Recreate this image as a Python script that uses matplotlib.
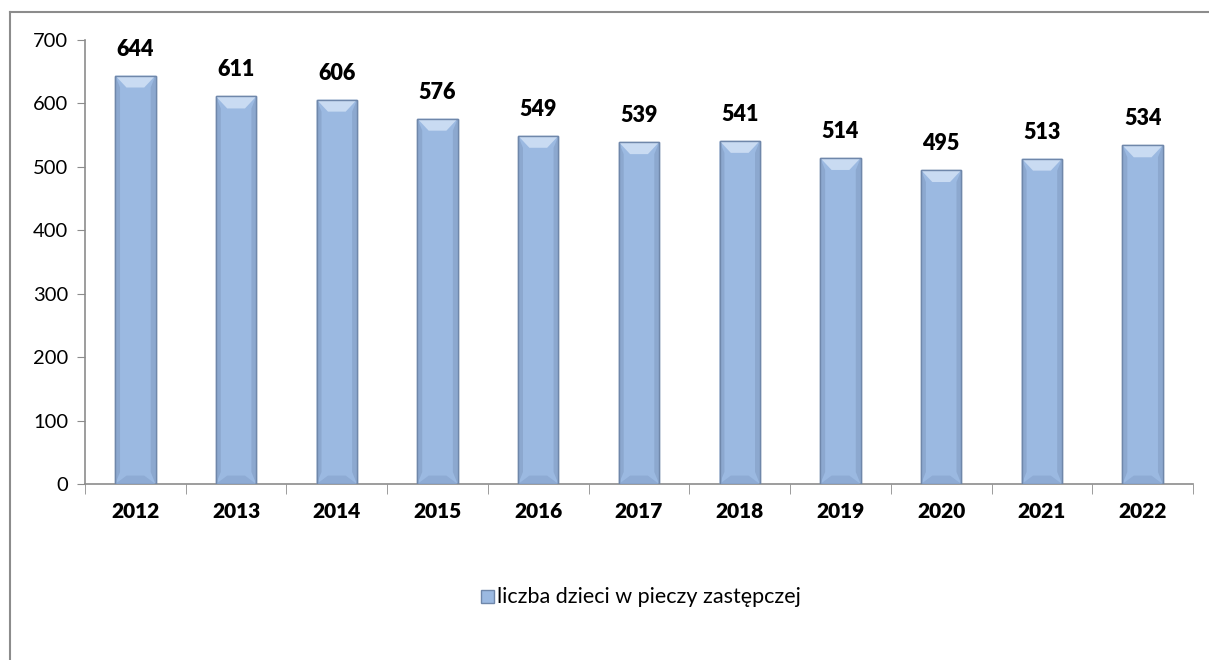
import numpy as np
import matplotlib
matplotlib.use("Agg")
import matplotlib.pyplot as plt
from matplotlib.patches import Polygon
from matplotlib.lines import Line2D

years = ["2012", "2013", "2014", "2015", "2016", "2017", "2018", "2019", "2020", "2021", "2022"]
children = [644, 611, 606, 576, 549, 539, 541, 514, 495, 513, 534]
series_name = "liczba dzieci w pieczy zastępczej"

plt.rcParams["font.family"] = ["Lato", "DejaVu Sans"]

W, H = 1209, 660
fig = plt.figure(figsize=(W / 100, H / 100), dpi=100)
ax = fig.add_axes([85 / W, 1 - 484 / H, (1193 - 85) / W, (484 - 40) / H])

x = np.arange(len(years))
bw = 0.40
face = "#9BB9E1"
edge = "#6F87AA"
ax.bar(x, children, width=bw, color=face, edgecolor=edge, linewidth=1.0, zorder=2)

# bevel on top and bottom of each bar (in data units derived from value)
cap = 700 * 12 / 444
for xi, v in zip(x, children):
    l, r = xi - bw / 2, xi + bw / 2
    inset = bw * 0.28
    ax.add_patch(Polygon([(l, v), (r, v), (r - inset, v - cap), (l + inset, v - cap)],
                         closed=True, facecolor="#C9DBF2", edgecolor="none", zorder=3))
    ax.add_patch(Polygon([(l, 0), (r, 0), (r - inset, cap * 0.7), (l + inset, cap * 0.7)],
                         closed=True, facecolor="#8EABD4", edgecolor="none", zorder=3))
    ax.add_patch(Polygon([(l, 0), (l + bw * 0.12, cap), (l + bw * 0.12, v - cap), (l, v)],
                         closed=True, facecolor="#8CA8CF", edgecolor="none", zorder=3))
    ax.add_patch(Polygon([(r, 0), (r - bw * 0.12, cap), (r - bw * 0.12, v - cap), (r, v)],
                         closed=True, facecolor="#8CA8CF", edgecolor="none", zorder=3))
    ax.bar(xi, v, width=bw, color="none", edgecolor=edge, linewidth=1.0, zorder=4)
    ax.text(xi, v + 700 * 16 / 444, str(v), ha="center", va="bottom",
            fontsize=15.5, fontweight="heavy", color="black")

ax.set_xlim(-0.5, len(years) - 0.5)
ax.set_ylim(0, 700)
ax.set_yticks(range(0, 701, 100))
ax.tick_params(axis="y", labelsize=14.5, length=6, color="#8C8C8C", pad=6)
ax.set_xticks(x)
ax.set_xticklabels(years, fontsize=15, fontweight="heavy")
ax.tick_params(axis="x", length=0, pad=13)
ax.set_xticks(np.arange(len(years) + 1) - 0.5, minor=True)
ax.tick_params(axis="x", which="minor", length=7, color="#8C8C8C")
for s in ["top", "right"]:
    ax.spines[s].set_visible(False)
for s in ["left", "bottom"]:
    ax.spines[s].set_color("#8C8C8C")
    ax.spines[s].set_linewidth(1.2)

# legend
fig.patches.append(plt.Rectangle((481 / W, 1 - 603 / H), 13 / W, 13 / H,
                                 transform=fig.transFigure, facecolor=face,
                                 edgecolor=edge, linewidth=1.0))
fig.text(497 / W, 1 - 597 / H, series_name, fontsize=15.5, va="center", ha="left")

# outer chart border (only top and left visible)
fig.add_artist(Line2D([10 / W, 10 / W], [0, 1 - 12 / H], transform=fig.transFigure,
                      color="#8C8C8C", linewidth=1.5))
fig.add_artist(Line2D([10 / W, 1], [1 - 12 / H, 1 - 12 / H], transform=fig.transFigure,
                      color="#8C8C8C", linewidth=1.5))

fig.savefig("out.png", dpi=100)
